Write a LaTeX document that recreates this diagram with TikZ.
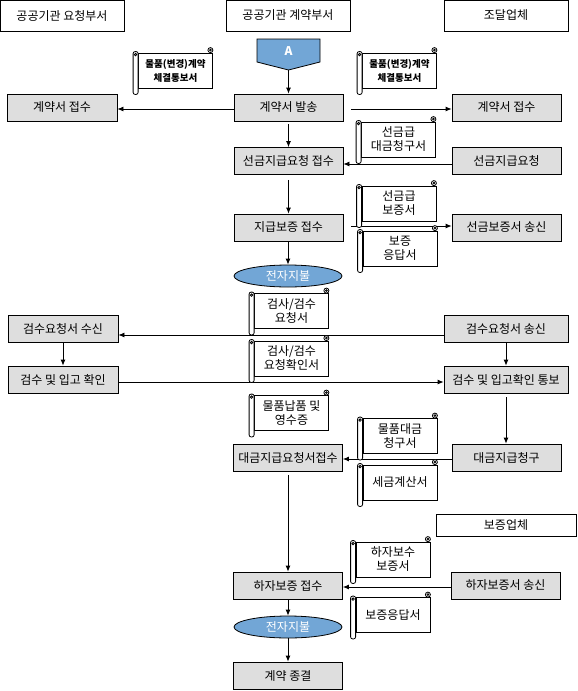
\documentclass[tikz,border=0pt]{standalone}
\usepackage{fontspec}
\setmainfont{Noto Sans CJK KR}
\usetikzlibrary{arrows.meta,shapes.geometric}

\definecolor{payblue}{HTML}{72A6D6}
\definecolor{boxgray}{HTML}{DEDEDE}

% scroll shaped document: [font], name, body centre, text
\newcommand{\docscroll}[4][]{%
  \node[doc,#1] (#2) at (#3) {#4};
  \draw[fill=white, rounded corners=2pt] ([xshift=-5pt,yshift=1pt]#2.north west) rectangle ([yshift=-6pt]#2.south west);
  \draw ([xshift=-2.5pt,yshift=-2pt]#2.north west) circle (1.2pt);
  \draw[fill=white] ([xshift=-2.5pt,yshift=2.5pt]#2.north east) circle (2.5pt);
  \draw ([xshift=-2.5pt,yshift=2.5pt]#2.north east) circle (0.9pt);
}

\begin{document}
\begin{tikzpicture}[x=1pt, y=-1pt, line width=0.8pt, font=\fontsize{12}{14}\selectfont]
    \tikzstyle{lane}=[draw, minimum width=124pt, minimum height=31pt, inner sep=0pt]
    \tikzstyle{proc}=[draw, fill=boxgray, minimum width=109pt, minimum height=27pt, inner sep=0pt]
    \tikzstyle{pay}=[ellipse, draw, fill=payblue, text=white, minimum width=108pt, minimum height=22pt, inner sep=0pt]
    \tikzstyle{doc}=[draw, fill=white, minimum width=74pt, minimum height=35pt, inner sep=0pt, align=center]
    \tikzstyle{note}=[font=\fontsize{9.5}{14}\selectfont\bfseries]
    \tikzstyle{flow}=[-{Latex[length=6pt,width=5pt]}]

    \useasboundingbox (0,0) rectangle (578,691);

    % swimlane heads
    \node[lane] (hReq) at (62,15.5) {공공기관 요청부서};
    \node[lane] (hCon) at (288,15.5) {공공기관 계약부서};
    \node[lane] (hSup) at (506,15.5) {조달업체};
    \node[lane, minimum width=140pt, minimum height=22pt] (hGua) at (506,525) {보증업체};

    % start marker
    \filldraw[fill=payblue] (257,39) -- (320,39) -- (320,62) -- (288.5,70) -- (257,62) -- cycle;
    \node[text=white, font=\fontsize{12}{14}\selectfont\bfseries] (A) at (288.5,51) {A};
    \coordinate (Atip) at (288.5,70);

    % contract department
    \node[proc] (sendC) at (288.5,107.5) {계약서 발송};
    \node[proc] (advRecv) at (288.5,161) {선금지급요청 접수};
    \node[proc] (guarRecv) at (288.5,227.5) {지급보증 접수};
    \node[pay] (pay1) at (288,276) {전자지불};
    \node[proc] (billRecv) at (288,457.5) {대금지급요청서접수};
    \node[proc] (warRecv) at (288,585.5) {하자보증 접수};
    \node[pay] (pay2) at (288,627) {전자지불};
    \node[proc] (done) at (288,675.5) {계약 종결};

    % requesting department
    \node[proc, minimum width=110pt] (recvL) at (62,107.5) {계약서 접수};
    \node[proc, minimum width=110pt] (inspRecv) at (63,328.5) {검수요청서 수신};
    \node[proc, minimum width=110pt] (inspChk) at (63,379.5) {검수 및 입고 확인};

    % supplier
    \node[proc] (recvR) at (506.5,107.5) {계약서 접수};
    \node[proc] (advReq) at (506.5,161) {선금지급요청};
    \node[proc] (guarSend) at (506.5,227.5) {선금보증서 송신};
    \node[proc, minimum width=124pt] (inspSend) at (506,328.5) {검수요청서 송신};
    \node[proc, minimum width=124pt] (inspNote) at (506,379.5) {검수 및 입고확인 통보};
    \node[proc] (bill) at (506.5,457.5) {대금지급청구};
    \node[proc] (warSend) at (505.5,585.5) {하자보증서 송신};

    % flows
    \draw[flow] (Atip) -- (sendC);
    \draw[flow] ([yshift=-1.5pt]sendC.west) -- ([yshift=-1.5pt]recvL.east);
    \draw[flow, shorten <=8pt] ([yshift=-1.5pt]sendC.east) -- ([yshift=-1.5pt]recvR.west);
    \draw[flow, shorten <=3pt] (sendC) -- (advRecv);
    \draw[flow] ([yshift=-3pt]advReq.west) -- ([yshift=-3pt]advRecv.east);
    \draw[flow, shorten <=5pt] (advRecv) -- (guarRecv);
    \draw[flow, shorten <=8pt] ([yshift=1.5pt]guarRecv.east) -- ([yshift=1.5pt]guarSend.west);
    \draw[flow] (guarRecv.south -| pay1.north) -- (pay1);
    \draw[flow] ([yshift=-6.5pt]inspSend.west) -- ([yshift=-6.5pt]inspRecv.east);
    \draw[flow] (inspRecv) -- (inspChk);
    \draw[flow] ([yshift=-2.5pt]inspChk.east) -- ([yshift=-2.5pt]inspNote.west);
    \draw[flow] (inspSend) -- (inspNote);
    \draw[flow, shorten <=4pt] (inspNote.south) -- (inspNote.south |- bill.north);
    \draw[flow] ([yshift=-1.5pt]bill.west) -- ([yshift=-1.5pt]billRecv.east);
    \draw[flow, shorten <=4pt] (billRecv) -- (warRecv);
    \draw[flow] ([yshift=-1.5pt]warSend.west) -- ([yshift=-1.5pt]warRecv.east);
    \draw[flow] (warRecv) -- (pay2);
    \draw[flow] (pay2) -- (done);

    % documents
    \docscroll[note]{s1}{175.5,70.5}{물품(변경)계약\\체결통보서}
    \docscroll[note]{s2}{399.5,70.5}{물품(변경)계약\\체결통보서}
    \docscroll{s3}{398.5,139.5}{선금급\\대금청구서}
    \docscroll{s4}{399,203.5}{선금급\\보증서}
    \docscroll{s5}{400,248.5}{보증\\응답서}
    \docscroll{s6}{291.5,311}{검사/검수\\요청서}
    \docscroll{s7}{291.5,358.5}{검사/검수\\요청확인서}
    \docscroll{s8}{291.5,413}{물품납품 및\\영수증}
    \docscroll{s9}{400,436}{물품대금\\청구서}
    \docscroll{s10}{400,482.5}{세금계산서}
    \docscroll{s11}{393,559.5}{하자보수\\보증서}
    \docscroll{s12}{393,615}{보증응답서}
\end{tikzpicture}
\end{document}
